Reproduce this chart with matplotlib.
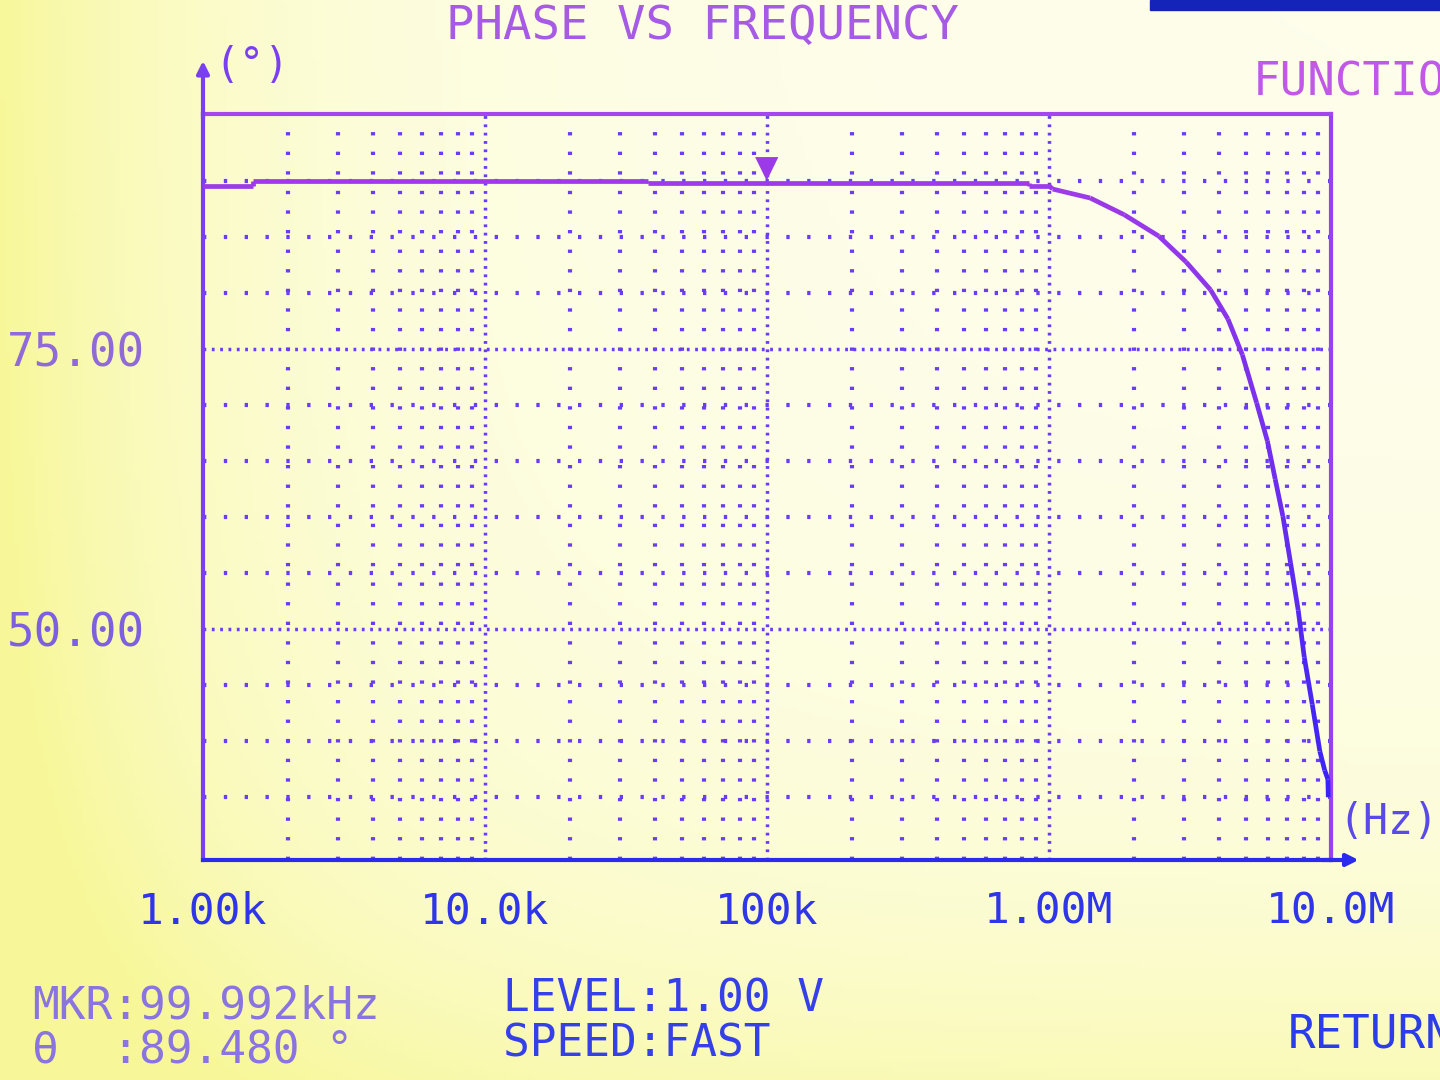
import matplotlib
matplotlib.use("Agg")
import matplotlib.pyplot as plt
import numpy as np
from matplotlib.collections import LineCollection
from matplotlib.colors import LinearSegmentedColormap
from matplotlib.patches import Rectangle

# phase trace (Hz, degrees)
freq_hz = [1.0e3, 1.5e3, 1.5e3, 38e3, 38e3, 850e3, 850e3, 1.0e6, 1.03e6, 1.40e6,
           1.85e6, 2.45e6, 3.06e6, 3.74e6, 4.31e6, 4.85e6, 5.45e6, 5.95e6, 6.34e6,
           6.75e6, 7.19e6, 7.65e6, 8.04e6, 8.58e6, 9.13e6, 9.50e6, 9.75e6, 9.78e6]
phase_deg = [89.6, 89.6, 90.0, 90.0, 89.8, 89.8, 89.6, 89.6, 89.3, 88.5,
             87.0, 85.1, 82.8, 80.3, 77.7, 74.5, 70.2, 66.8, 63.4,
             60.1, 55.9, 51.7, 47.5, 43.3, 39.1, 37.4, 36.6, 35.0]

mkr_freq = 99.992e3
mkr_phase = 89.48

x_ticks = [1e3, 1e4, 1e5, 1e6, 1e7]
x_tick_labels = ["1.00k", "10.0k", "100k", "1.00M", "10.0M"]
y_ticks = [50, 75]
y_tick_labels = ["50.00", "75.00"]

MONO = "DejaVu Sans Mono"
GRID = "#6b3df2"

fig = plt.figure(figsize=(14.4, 10.8), dpi=100)

# washed-out yellow screen background
bg = fig.add_axes([0, 0, 1, 1], zorder=-5)
gx, gy = np.meshgrid(np.linspace(0, 1, 300), np.linspace(0, 1, 240))
w = 0.85 * np.exp(-gx / 0.17) + 0.55 * np.exp(-gy / 0.22) + 0.12
w = np.clip(w, 0, 1)[..., None]
yellow = np.array([0.97, 0.97, 0.60])
white = np.array([1.0, 1.0, 0.97])
bg.imshow(white * (1 - w) + yellow * w, origin="lower", aspect="auto", extent=[0, 1, 0, 1])
bg.axis("off")
fig.patches.append(Rectangle((1150 / 1440, 1 - 10 / 1080), 290 / 1440, 10 / 1080,
                             transform=fig.transFigure, color="#1424b8", zorder=-4))

ax = fig.add_axes([203 / 1440, 220 / 1080, 1128 / 1440, 746 / 1080])
ax.set_facecolor("none")
ax.set_xscale("log")
ax.set_xlim(1e3, 1e7)
ax.set_ylim(29.4, 96)

# dotted grid like the instrument display
sparse = (0, (0.8, 3.9))
dense = (0, (0.8, 1.6))
for dec in [1e3, 1e4, 1e5, 1e6]:
    for k in range(2, 10):
        ax.axvline(dec * k, color=GRID, lw=3, ls=sparse, zorder=1)
    if dec > 1e3:
        ax.axvline(dec, color=GRID, lw=2.5, ls=dense, zorder=1)
for v in range(35, 95, 5):
    if v in (50, 75):
        ax.axhline(v, color=GRID, lw=2.5, ls=dense, zorder=1)
    else:
        ax.axhline(v, color=GRID, lw=3, ls=(0, (0.8, 4.2)), zorder=1)

# trace, purple at the top fading to blue at the bottom
cmap = LinearSegmentedColormap.from_list("scr", ["#2f22f5", "#6a2cf0", "#a23be8"])
pts = np.column_stack([freq_hz, phase_deg])
segs = np.stack([pts[:-1], pts[1:]], axis=1)
lc = LineCollection(segs, cmap=cmap, linewidths=3.4, zorder=3)
lc.set_array((np.array(phase_deg[:-1]) + np.array(phase_deg[1:])) / 2)
lc.set_clim(30, 92)
ax.add_collection(lc)

ax.annotate("▼", xy=(mkr_freq, mkr_phase), xytext=(0, 13), textcoords="offset points",
            ha="center", va="center", fontsize=22, color="#9b3ae6", zorder=4)

# frame
ax.spines["left"].set_color("#7b3ff2")
ax.spines["top"].set_color("#a445ee")
ax.spines["right"].set_color("#9a40f0")
ax.spines["bottom"].set_color("#2b2bf0")
for s in ax.spines.values():
    s.set_linewidth(3)
ax.annotate("", xy=(0, 1.075), xytext=(0, 0.99), xycoords="axes fraction",
            arrowprops=dict(arrowstyle="-|>", color="#7b3ff2", lw=3, mutation_scale=18))
ax.annotate("", xy=(1.027, 0), xytext=(0.99, 0), xycoords="axes fraction",
            arrowprops=dict(arrowstyle="-|>", color="#2b2bf0", lw=3, mutation_scale=18))

ax.set_xticks(x_ticks)
ax.set_xticklabels(x_tick_labels, family=MONO, fontsize=31, color="#2f35e8")
ax.set_yticks(y_ticks)
ax.set_yticklabels(y_tick_labels, family=MONO, fontsize=33)
for lab, c in zip(ax.get_yticklabels(), ["#7c60e0", "#8f6ad8"]):
    lab.set_color(c)
ax.minorticks_off()
ax.tick_params(axis="x", length=0, pad=22)
ax.tick_params(axis="y", length=0, pad=42)

# screen texts
fig.text(703 / 1440, 1 - 27 / 1080, "PHASE VS FREQUENCY", family=MONO, fontsize=34,
         color="#a65ae6", ha="center", va="center")
fig.text(1253 / 1440, 1 - 83 / 1080, "FUNCTION", family=MONO, fontsize=33,
         color="#c058e8", ha="left", va="center")
fig.text(252 / 1440, 1 - 66 / 1080, "(°)", family=MONO, fontsize=30,
         color="#7a3ff0", ha="center", va="center")
fig.text(1338 / 1440, 1 - 822 / 1080, "(Hz)", family=MONO, fontsize=30,
         color="#5a4ae8", ha="left", va="center")
fig.text(32 / 1440, 1 - 1006 / 1080, "MKR:99.992kHz", family=MONO, fontsize=32,
         color="#8a74e0", ha="left", va="center")
fig.text(32 / 1440, 1 - 1051 / 1080, "θ  :89.480 °", family=MONO, fontsize=32,
         color="#8a74e0", ha="left", va="center")
fig.text(503 / 1440, 1 - 999 / 1080, "LEVEL:1.00 V", family=MONO, fontsize=32,
         color="#3540e8", ha="left", va="center")
fig.text(503 / 1440, 1 - 1044 / 1080, "SPEED:FAST", family=MONO, fontsize=32,
         color="#3540e8", ha="left", va="center")
fig.text(1288 / 1440, 1 - 1035 / 1080, "RETURN", family=MONO, fontsize=33,
         color="#2a3de8", ha="left", va="center")

fig.savefig("out.png", dpi=100)
